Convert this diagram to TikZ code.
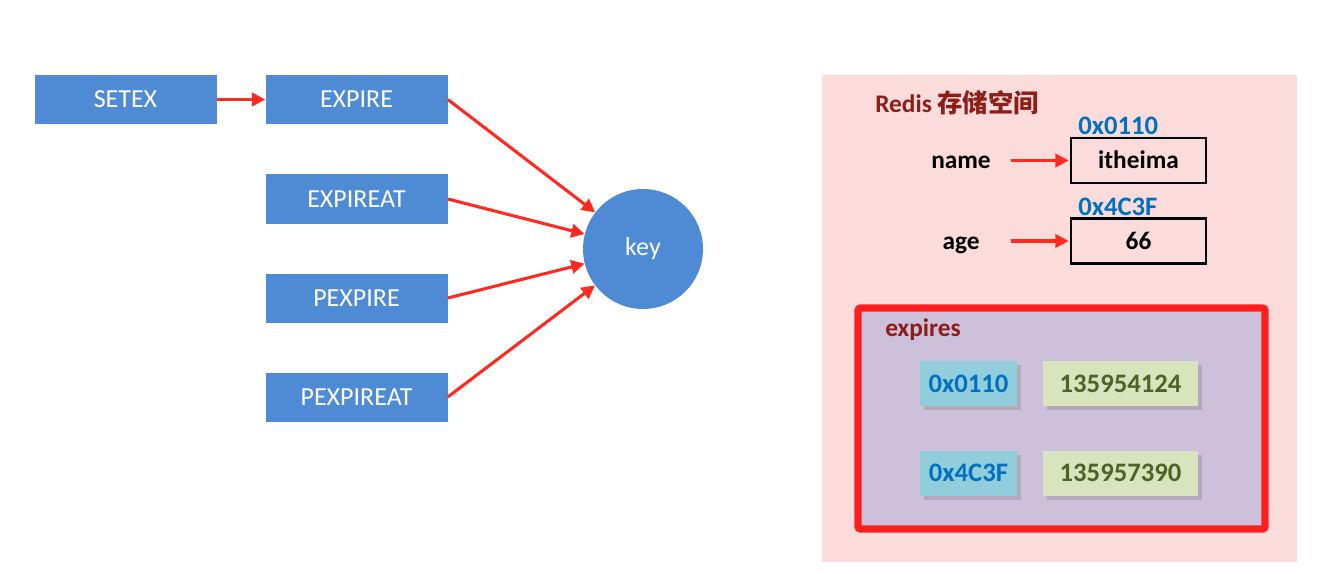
\documentclass[tikz,border=0pt]{standalone}
\usepackage{fontspec}
\setmainfont{Carlito}
\newfontfamily\cjk{Noto Sans CJK SC}
\usetikzlibrary{arrows.meta, positioning, shadows}

\definecolor{cmdblue}{HTML}{4F8BD4}
\definecolor{arrowred}{HTML}{FF2A1F}
\definecolor{panelpink}{HTML}{FCDCDA}
\definecolor{lavender}{HTML}{CDC0DA}
\definecolor{framered}{HTML}{FF1E1E}
\definecolor{addrfill}{HTML}{92CDDC}
\definecolor{addrtext}{HTML}{0070C0}
\definecolor{ttlfill}{HTML}{D7E4BD}
\definecolor{ttltext}{HTML}{4F6228}
\definecolor{darkred}{HTML}{8C1D18}

\begin{document}
\begin{tikzpicture}[x=0.75pt,y=-0.75pt,
		font=\fontsize{19.5}{23}\selectfont,
		cmd/.style = {fill=cmdblue,text=white,minimum width=136.5pt,minimum height=36.75pt,inner sep=0pt},
		link/.style = {draw=arrowred,line width=2.3pt,-{Triangle[length=10pt,width=10pt]}},
		valbox/.style = {draw=black,line width=1.6pt,fill=panelpink,minimum width=101.25pt,minimum height=33.75pt,
			text height=13pt,text depth=1pt,font=\fontsize{19}{23}\selectfont\bfseries},
		field/.style = {text width=70pt,align=center,inner sep=0pt,text height=13pt,text depth=1pt,
			font=\fontsize{19}{23}\selectfont\bfseries},
		addr/.style = {text=addrtext,font=\fontsize{20}{24}\selectfont\bfseries},
		slot/.style = {minimum height=33.75pt,inner sep=0pt,font=\fontsize{20}{24}\selectfont\bfseries,
			drop shadow={shadow xshift=3pt,shadow yshift=-3pt,opacity=0.35}}]
		\useasboundingbox [fill=white] (0,0) rectangle (1331,574);
		% commands
		\node [cmd] (setex) at (125.5,99.5) {SETEX};
		\node [cmd] (expire) at (356.5,99.5) {EXPIRE};
		\node [cmd] (expireat) at (356.5,199) {EXPIREAT};
		\node [cmd] (pexpire) at (356.5,298) {PEXPIRE};
		\node [cmd] (pexpireat) at (356.5,397) {PEXPIREAT};
		\node [circle,fill=cmdblue,text=white,minimum size=90pt,inner sep=0pt] (key) at (643,249) {key};
		\draw [link] (setex.east) -- (expire.west);
		\foreach \src in {expire,expireat,pexpire,pexpireat}
			\draw [link] (\src.east) -- (key);
		% redis space
		\fill [panelpink] (822,75) rectangle (1297,562);
		\node [anchor=west,text=darkred,font=\fontsize{19}{23}\selectfont\bfseries,inner sep=0pt] (title) at (875,103) {Redis {\cjk 存储空间}};
		\node [valbox] (itheima) at (1138.5,160.5) {itheima};
		\node [valbox] (age val) at (1138.5,241) {66};
		\node [field] (name) at (961,160.5) {name};
		\node [field] (age) at (961,241) {age};
		\node [addr,anchor=west,inner sep=0pt] (addr name) at (1078,126) {0x0110};
		\node [addr,anchor=west,inner sep=0pt] (addr age) at (1078,207) {0x4C3F};
		\draw [link,shorten <=2pt,shorten >=1pt] (name.east) -- (itheima.west);
		\draw [link,shorten <=2pt,shorten >=1pt] (age.east) -- (age val.west);
		% expires
		\draw [framered,line width=5.5pt,fill=lavender,rounded corners=2pt] (858,308) rectangle (1265,529);
		\node [anchor=west,text=darkred,font=\fontsize{19}{23}\selectfont\bfseries,inner sep=0pt] (expires) at (885,330) {expires};
		\node [slot,fill=addrfill,text=addrtext,minimum width=72.75pt] (key one) at (968.5,383.5) {0x0110};
		\node [slot,fill=ttlfill,text=ttltext,minimum width=116.25pt] (ttl one) at (1120.5,383.5) {135954124};
		\node [slot,fill=addrfill,text=addrtext,minimum width=72.75pt] (key two) at (968.5,473) {0x4C3F};
		\node [slot,fill=ttlfill,text=ttltext,minimum width=116.25pt] (ttl two) at (1120.5,473) {135957390};
	\end{tikzpicture}
\end{document}
